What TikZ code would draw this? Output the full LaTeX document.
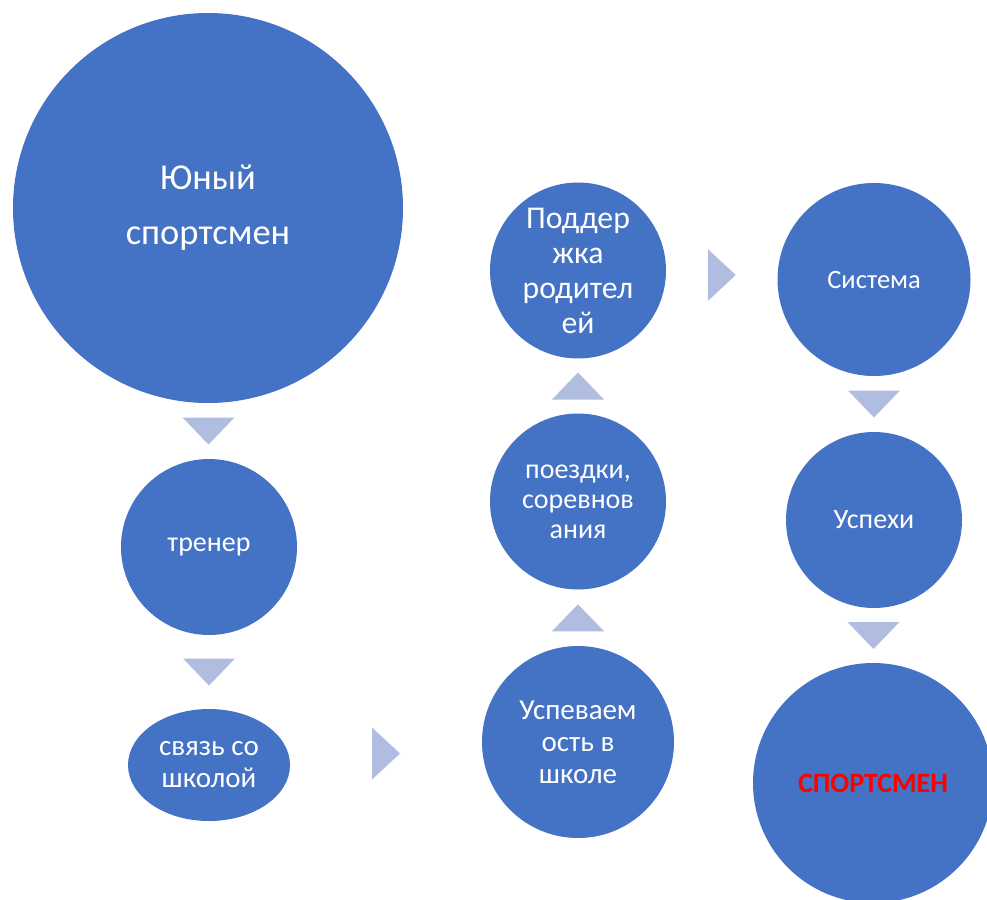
\documentclass[tikz,border=0pt]{standalone}
\usepackage{fontspec}
\setmainfont{Carlito}
\usetikzlibrary{shapes.geometric,calc}
\definecolor{nodeblue}{HTML}{4472C4}
\definecolor{arrowblue}{HTML}{B0BDE0}
\definecolor{redtext}{HTML}{FF0000}
\begin{document}
\begin{tikzpicture}[x=1pt,y=-1pt,
  bub/.style={circle,fill=nodeblue,text=white,inner sep=0pt,align=center},
  arr/.style={fill=arrowblue},
  fsmall/.style={font=\fontsize{28}{32}\selectfont}]
\useasboundingbox (0,0) rectangle (987,899);
\clip (0,0) rectangle (987,899);
% nodes
\node[bub,minimum size=390pt,font=\fontsize{36.5}{55}\selectfont] (young) at (208,208) {Юный\\спортсмен};
\node[bub,minimum size=176pt,fsmall] (coach) at (209,547) {тренер};
\node[bub,ellipse,minimum width=162pt,minimum height=112pt,font=\fontsize{29}{32}\selectfont] (school) at (209,765) {связь со\\школой};
\node[bub,minimum size=192pt,font=\fontsize{29}{32}\selectfont] (grades) at (578,742) {Успеваем\\ость в\\школе};
\node[bub,minimum size=176pt,font=\fontsize{28}{30}\selectfont] (trips) at (578,501.5) {поездки,\\соревнов\\ания};
\node[bub,minimum size=176pt,font=\fontsize{31.7}{35}\selectfont] (parents) at (578,270.5) {Поддер\\жка\\родител\\ей};
\node[bub,minimum size=193pt,font=\fontsize{26.5}{30}\selectfont] (system) at (874,279.5) {Система};
\node[bub,minimum size=176pt,fsmall] (success) at (874,520) {Успехи};
\node[bub,minimum size=240pt,text=redtext,font=\fontsize{28}{32}\selectfont\bfseries] (athlete) at (873,783) {СПОРТСМЕН};
% arrow positions
\coordinate (a1) at ($(young.south)!0.5!(coach.north)$);
\coordinate (a2) at ($(coach.south)!0.5!(school.north)$);
\coordinate (a3) at ($(school.east)!0.5!(grades.west)$);
\coordinate (a4) at ($(grades.north)!0.5!(trips.south)$);
\coordinate (a5) at ($(trips.north)!0.5!(parents.south)$);
\coordinate (a6) at ($(parents.east)!0.5!(system.west)$);
\coordinate (a7) at ($(system.south)!0.5!(success.north)$);
\coordinate (a8) at ($(success.south)!0.5!(athlete.north)$);
% down arrows
\foreach \c in {a1,a2,a7,a8}
  \fill[arr,shift={(\c)}] (-26,-13.5) -- (26,-13.5) -- (0,13.5) -- cycle;
% up arrows
\foreach \c in {a4,a5}
  \fill[arr,shift={(\c)}] (-26,13.5) -- (26,13.5) -- (0,-13.5) -- cycle;
% right arrows
\foreach \c in {a3,a6}
  \fill[arr,shift={(\c)}] (-14,-26) -- (-14,26) -- (14,0) -- cycle;
\end{tikzpicture}
\end{document}
